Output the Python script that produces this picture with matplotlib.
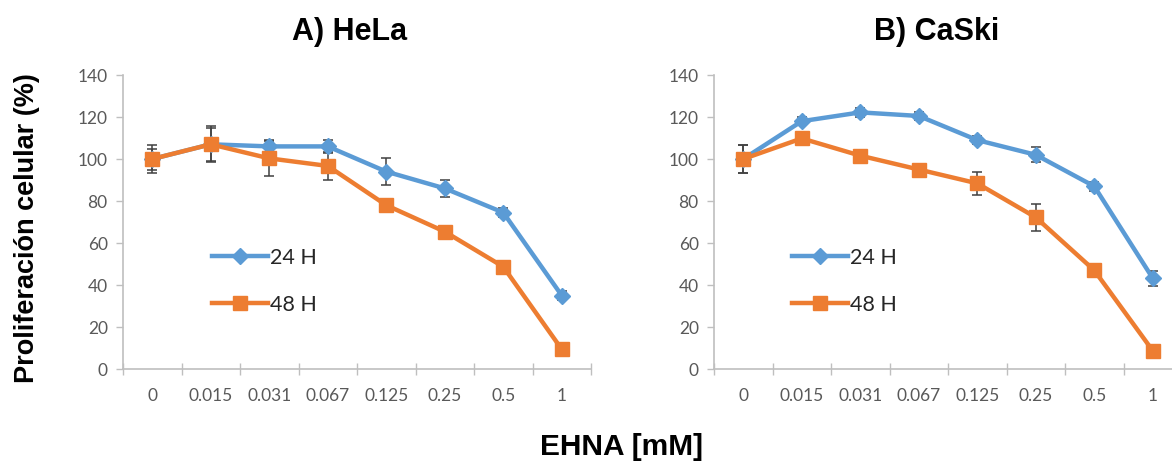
import matplotlib
matplotlib.use("Agg")
import matplotlib.pyplot as plt
import numpy as np

categories = ["0", "0.015", "0.031", "0.067", "0.125", "0.25", "0.5", "1"]
series_names = ["24 H", "48 H"]

hela_24 = [100, 107, 106, 106, 94, 86, 74.5, 35]
hela_48 = [100, 107, 100.3, 96.7, 78, 65.4, 48.7, 9.4]
hela_24_err = [5, 8, 3, 3, 6.3, 4, 2, 2]
hela_48_err = [6.5, 8.5, 8.5, 6.5, 2, 2, 2, 2]

caski_24 = [100, 118, 122.2, 120.5, 109, 102, 87, 43.2]
caski_48 = [100, 109.8, 101.6, 95, 88.4, 72.2, 47, 8.7]
caski_24_err = [6.5, 2, 2, 2, 2, 3.5, 2, 3.5]
caski_48_err = [6.5, 2, 2, 2, 5.5, 6.3, 2, 2]

titles = ["A) HeLa", "B) CaSki"]
y_ticks = [0, 20, 40, 60, 80, 100, 120, 140]
ylabel = "Proliferación celular (%)"
xlabel = "EHNA [mM]"

W, H = 1172, 463
fig = plt.figure(figsize=(W / 100, H / 100), dpi=100)

BLUE = "#5B9BD5"
ORANGE = "#ED7D31"
AXC = "#BFBFBF"
TXT = "#595959"
tick_font = "Lato"
bold_font = "Liberation Sans"

def px_axes(x0, x1, ytop, ybot):
    return [x0 / W, (H - ybot) / H, (x1 - x0) / W, (ybot - ytop) / H]

panels = [
    (px_axes(123, 591, 75, 369), hela_24, hela_48, hela_24_err, hela_48_err, (212, 259)),
    (px_axes(714, 1182, 75, 369), caski_24, caski_48, caski_24_err, caski_48_err, (792, 259)),
]

for i, (rect, s24, s48, e24, e48, leg) in enumerate(panels):
    ax = fig.add_axes(rect)
    x = np.arange(len(categories))
    for vals, errs in ((s24, e24), (s48, e48)):
        ax.errorbar(x, vals, yerr=errs, fmt="none", ecolor="#404040",
                    elinewidth=1.1, capsize=3.5, capthick=1.1, zorder=2)
    ax.plot(x, s24, color=BLUE, lw=3.2, marker="D", ms=8.5,
            mfc=BLUE, mec=BLUE, label=series_names[0], zorder=3)
    ax.plot(x, s48, color=ORANGE, lw=3.2, marker="s", ms=10.5,
            mfc=ORANGE, mec=ORANGE, label=series_names[1], zorder=4)
    ax.set_xlim(-0.5, len(categories) - 0.5)
    ax.set_ylim(0, 140)
    ax.set_yticks(y_ticks)
    ax.set_yticklabels([str(t) for t in y_ticks], fontfamily=tick_font,
                       fontsize=12.5, color=TXT)
    ax.set_xticks(x)
    ax.set_xticklabels(categories, fontfamily=tick_font, fontsize=12.5, color=TXT)
    ax.set_xticks(np.arange(-0.5, len(categories)), minor=True)
    ax.tick_params(axis="x", which="major", length=0, pad=14)
    ax.tick_params(axis="x", which="minor", length=8, direction="inout",
                   color=AXC, width=1)
    ax.tick_params(axis="y", which="major", length=5, direction="out",
                   color=AXC, width=1, pad=6)
    for s in ("top", "right"):
        ax.spines[s].set_visible(False)
    for s in ("left", "bottom"):
        ax.spines[s].set_color(AXC)
        ax.spines[s].set_linewidth(1.2)
    ax.set_facecolor("none")
    # legend
    lx, ly = leg
    bx = (lx - rect[0] * W) / (rect[2] * W)
    by = ((H - ly + 11) / H - rect[1]) / rect[3]
    ax.legend(loc="upper left", bbox_to_anchor=(bx, by), frameon=False,
              prop={"family": tick_font, "size": 15.5}, handlelength=2.6,
              handletextpad=0.1, labelspacing=1.25, borderpad=0,
              borderaxespad=0, labelcolor="#262626")

fig.text(350 / W, 1 - 40 / H, titles[0], ha="center", va="baseline",
         fontfamily=bold_font, fontweight="bold", fontsize=22)
fig.text(937 / W, 1 - 40 / H, titles[1], ha="center", va="baseline",
         fontfamily=bold_font, fontweight="bold", fontsize=22)
fig.text(27 / W, 1 - 228 / H, ylabel, rotation=90, ha="center", va="center",
         fontfamily=bold_font, fontweight="bold", fontsize=19.5)
fig.text(622 / W, 1 - 455 / H, xlabel, ha="center", va="baseline",
         fontfamily=bold_font, fontweight="bold", fontsize=21.5)

fig.savefig("out.png", dpi=100, facecolor="white")
